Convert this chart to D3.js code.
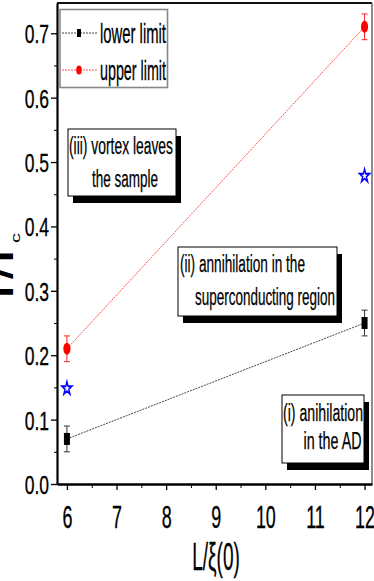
<!DOCTYPE html>
<html>
<head>
<meta charset="utf-8">
<script src="https://cdn.jsdelivr.net/npm/d3@7"></script>
<style>
  html, body { margin: 0; padding: 0; background: #fff; }
  svg { display: block; font-family: "Liberation Sans", Arial, sans-serif; }
</style>
</head>
<body>
<div id="chart"></div>
<script>
// values
var lengthRatio = [6, 12];
var lowerLimit = [0.07, 0.25];
var lowerErr = [0.02, 0.02];
var upperLimit = [0.21, 0.71];
var upperErr = [0.02, 0.02];
var starValues = [0.15, 0.48];

var xTicks = [6, 7, 8, 9, 10, 11, 12];
var xMinor = [6.5, 7.5, 8.5, 9.5, 10.5, 11.5];
var yTicks = [0, 0.1, 0.2, 0.3, 0.4, 0.5, 0.6, 0.7];
var yMinor = [0.05, 0.15, 0.25, 0.35, 0.45, 0.55, 0.65];

var legendLabels = ["lower limit", "upper limit"];

var notes = [
  {box: [68, 129, 108, 67], lines: [
    {t: "(iii) vortex leaves", x: 69, y: 154, w: 104},
    {t: "the sample", x: 92, y: 187, w: 66}]},
  {box: [178, 247, 159, 69], lines: [
    {t: "(ii) annihilation in the", x: 180, y: 272, w: 125},
    {t: "superconducting region", x: 195, y: 305, w: 140}]},
  {box: [282, 395, 82, 68], lines: [
    {t: "(i) anihilation", x: 283, y: 421, w: 80},
    {t: "in the AD", x: 303.5, y: 448.5, w: 58}]}
];

var W = 374, H = 581;
var mLeft = 57, mTop = 3, mRight = 372, mBottom = 484;

var svg = d3.select("#chart").append("svg")
    .attr("width", W).attr("height", H);

var x = d3.scaleLinear().domain([5.8, 12.15]).range([mLeft, mRight]);
var y = d3.scaleLinear().domain([0, 0.747]).range([mBottom, mTop]);

// frame top / right
svg.append("line").attr("x1", mLeft).attr("x2", mRight).attr("y1", mTop).attr("y2", mTop)
    .attr("stroke", "#111").attr("stroke-width", 2);
svg.append("line").attr("x1", mRight).attr("x2", mRight).attr("y1", mTop).attr("y2", mBottom)
    .attr("stroke", "#666").attr("stroke-width", 1.5);

// y axis
var gy = svg.append("g").attr("transform", "translate(" + mLeft + ",0)")
    .call(d3.axisLeft(y).tickValues(yTicks).tickSize(6).tickSizeOuter(0).tickFormat(d3.format(".1f")));
svg.append("g").attr("transform", "translate(" + mLeft + ",0)")
    .call(d3.axisLeft(y).tickValues(yMinor).tickSize(3).tickSizeOuter(0).tickFormat(""))
    .select(".domain").remove();
gy.select(".domain").attr("stroke-width", 2.2);
gy.selectAll(".tick line").attr("stroke-width", 1.3);
gy.selectAll(".tick text")
    .attr("x", null).attr("dy", null)
    .attr("transform", "translate(-8,9.5) scale(0.66,1)")
    .style("font-size", "26.5px").attr("fill", "#000")
    .attr("stroke", "#000").attr("stroke-width", 0.35);

// x axis
var gx = svg.append("g").attr("transform", "translate(0," + mBottom + ")")
    .call(d3.axisBottom(x).tickValues(xTicks).tickSize(6).tickSizeOuter(0).tickFormat(d3.format("d")));
svg.append("g").attr("transform", "translate(0," + mBottom + ")")
    .call(d3.axisBottom(x).tickValues(xMinor).tickSize(4).tickSizeOuter(0).tickFormat(""))
    .select(".domain").remove();
gx.select(".domain").attr("stroke-width", 2.5);
gx.selectAll(".tick line").attr("stroke-width", 1.3);
gx.selectAll(".tick text")
    .attr("y", null).attr("dy", null)
    .attr("transform", "translate(0,43.5) scale(0.56,1)")
    .style("font-size", "32px").attr("fill", "#000")
    .attr("stroke", "#000").attr("stroke-width", 0.35);
svg.selectAll(".tick line").attr("stroke", "#000");

// axis titles
svg.append("text")
    .attr("transform", "translate(216,570) scale(0.5,1)")
    .attr("text-anchor", "middle")
    .style("font-size", "38px")
    .attr("stroke", "#000").attr("stroke-width", 0.3)
    .text("L/ξ(0)");

var yt = svg.append("text")
    .attr("transform", "translate(13,304) rotate(-90) scale(1,0.6)")
    .style("font-size", "40px").style("font-weight", "bold");
yt.append("tspan").text("T/T");
yt.append("tspan").attr("dx", 1).attr("dy", 12).style("font-size", "20px").style("font-weight", "normal").text("c");

// connecting lines
var pts = function(vals) { return lengthRatio.map(function(d, i) { return [x(d), y(vals[i])]; }); };
svg.append("path").attr("d", d3.line()(pts(lowerLimit)))
    .attr("fill", "none").attr("stroke", "#444").attr("stroke-width", 1).attr("stroke-dasharray", "2,1");
svg.append("path").attr("d", d3.line()(pts(upperLimit)))
    .attr("fill", "none").attr("stroke", "#ff5050").attr("stroke-width", 1).attr("stroke-dasharray", "2,1");

// error bars
function errBars(vals, errs, color) {
  var g = svg.append("g").attr("stroke", color).attr("stroke-width", 1).attr("fill", "none");
  lengthRatio.forEach(function(d, i) {
    var cx = x(d), y0 = y(vals[i] - errs[i]), y1 = y(vals[i] + errs[i]);
    g.append("line").attr("x1", cx).attr("x2", cx).attr("y1", y0).attr("y2", y1);
    g.append("line").attr("x1", cx - 3).attr("x2", cx + 3).attr("y1", y0).attr("y2", y0);
    g.append("line").attr("x1", cx - 3).attr("x2", cx + 3).attr("y1", y1).attr("y2", y1);
  });
}
errBars(lowerLimit, lowerErr, "#333");
errBars(upperLimit, upperErr, "#ff2020");

// markers
svg.selectAll(".sq").data(lengthRatio).enter().append("rect").attr("class", "sq")
    .attr("x", function(d) { return x(d) - 3; })
    .attr("y", function(d, i) { return y(lowerLimit[i]) - 6; })
    .attr("width", 6).attr("height", 12).attr("fill", "#000");
svg.selectAll(".ci").data(lengthRatio).enter().append("ellipse").attr("class", "ci")
    .attr("cx", function(d) { return x(d); })
    .attr("cy", function(d, i) { return y(upperLimit[i]); })
    .attr("rx", 3.6).attr("ry", 6).attr("fill", "#ff0000");
var star = d3.symbol().type(d3.symbolStar).size(30);
svg.selectAll(".st").data(lengthRatio).enter().append("path").attr("class", "st")
    .attr("transform", function(d, i) { return "translate(" + x(d) + "," + (y(starValues[i]) + 1) + ") scale(1,1.35)"; })
    .attr("d", star)
    .attr("fill", "none").attr("stroke", "#0000ff").attr("stroke-width", 1.4);

// legend
var lg = svg.append("g");
lg.append("rect").attr("x", 60).attr("y", 9.5).attr("width", 107.5).attr("height", 78)
    .attr("fill", "#fff").attr("stroke", "#888").attr("stroke-width", 1.6);
var legColors = ["#444", "#ff5050"];
var legY = [33, 70];
legendLabels.forEach(function(lbl, i) {
  lg.append("line").attr("x1", 62).attr("x2", 97).attr("y1", legY[i]).attr("y2", legY[i])
      .attr("stroke", legColors[i]).attr("stroke-width", 1).attr("stroke-dasharray", "2,1");
  if (i === 0) {
    lg.append("rect").attr("x", 77).attr("y", legY[i] - 4).attr("width", 4).attr("height", 8).attr("fill", "#000");
  } else {
    lg.append("ellipse").attr("cx", 79).attr("cy", legY[i]).attr("rx", 2.8).attr("ry", 4.5).attr("fill", "#ff0000");
  }
  lg.append("text").attr("x", 100).attr("y", legY[i] + 10)
      .attr("textLength", 66).attr("lengthAdjust", "spacingAndGlyphs")
      .style("font-size", "27.5px").attr("stroke", "#000").attr("stroke-width", 0.3)
      .text(lbl);
});

// annotation boxes with drop shadow
notes.forEach(function(n) {
  var b = n.box, g = svg.append("g");
  g.append("rect").attr("x", b[0] + 5).attr("y", b[1] + 7).attr("width", b[2]).attr("height", b[3]).attr("fill", "#000");
  g.append("rect").attr("x", b[0]).attr("y", b[1]).attr("width", b[2]).attr("height", b[3])
      .attr("fill", "#fff").attr("stroke", "#000").attr("stroke-width", 1);
  n.lines.forEach(function(l) {
    g.append("text").attr("x", l.x).attr("y", l.y)
        .attr("textLength", l.w).attr("lengthAdjust", "spacingAndGlyphs")
        .style("font-size", "23.5px").attr("stroke", "#000").attr("stroke-width", 0.25)
        .text(l.t);
  });
});
</script>
</body>
</html>
